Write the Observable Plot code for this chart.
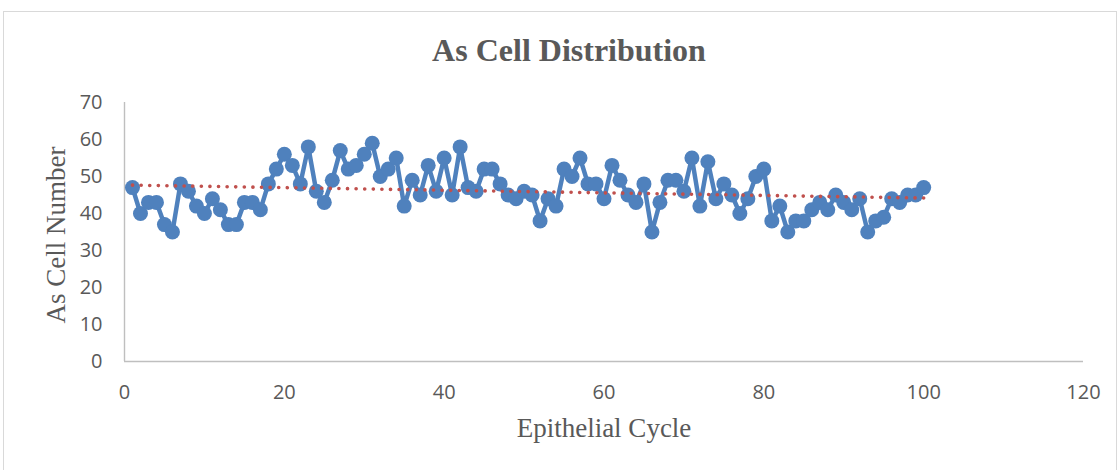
<!DOCTYPE html>
<html>
<head>
<meta charset="utf-8">
<script src="https://cdn.jsdelivr.net/npm/d3@7"></script>
<script src="https://cdn.jsdelivr.net/npm/@observablehq/plot@0.6"></script>
<style>
  html, body { margin: 0; padding: 0; background: #fff; }
  #wrap { position: relative; width: 1120px; height: 470px; overflow: hidden; }
  #frame { position: absolute; left: 3px; top: 11px; width: 1114px; height: 470px; border: 1px solid #d9d9d9; box-sizing: border-box; }
  #chart { position: absolute; left: 0; top: 0; }
</style>
</head>
<body>
<div id="wrap"><div id="frame"></div><div id="chart"></div></div>
<script>
const titleText = "As Cell Distribution";
const xTitle = "Epithelial Cycle";
const yTitle = "As Cell Number";
const xTicks = [0, 20, 40, 60, 80, 100, 120];
const yTicks = [0, 10, 20, 30, 40, 50, 60, 70];
const cycles = d3.range(1, 101);
const asCells = [
  47, 40, 43, 43, 37, 35, 48, 46, 42, 40,
  44, 41, 37, 37, 43, 43, 41, 48, 52, 56,
  53, 48, 58, 46, 43, 49, 57, 52, 53, 56,
  59, 50, 52, 55, 42, 49, 45, 53, 46, 55,
  45, 58, 47, 46, 52, 52, 48, 45, 44, 46,
  45, 38, 44, 42, 52, 50, 55, 48, 48, 44,
  53, 49, 45, 43, 48, 35, 43, 49, 49, 46,
  55, 42, 54, 44, 48, 45, 40, 44, 50, 52,
  38, 42, 35, 38, 38, 41, 43, 41, 45, 43,
  41, 44, 35, 38, 39, 44, 43, 45, 45, 47
];
const data = cycles.map((c, i) => ({cycle: c, value: asCells[i]}));

const blue = "#4F81BD";
const red = "#C0504D";
const gray = "#595959";
const serif = "'Liberation Serif', 'Times New Roman', serif";

const chart = Plot.plot({
  width: 1120,
  height: 470,
  marginLeft: 124,
  marginRight: 37,
  marginTop: 102,
  marginBottom: 109,
  style: {fontFamily: "'Open Sans', sans-serif", fontSize: "20px", color: gray, background: "transparent", overflow: "visible"},
  x: {domain: [0, 120], ticks: xTicks, tickSize: 0, tickPadding: 23, label: null},
  y: {domain: [0, 70], ticks: yTicks, tickSize: 0, tickPadding: 22, label: null},
  marks: [
    Plot.ruleY([0], {stroke: "#bfbfbf", strokeWidth: 1.4}),
    Plot.ruleX([0], {stroke: "#bfbfbf", strokeWidth: 1.4}),
    Plot.line(data, {x: "cycle", y: "value", stroke: blue, strokeWidth: 4.5, strokeLinejoin: "round"}),
    Plot.dot(data, {x: "cycle", y: "value", r: 7.5, fill: blue, stroke: null}),
    Plot.linearRegressionY(data, {x: "cycle", y: "value", ci: 0, stroke: red, strokeWidth: 3.6, strokeDasharray: "0.1 8.5", strokeLinecap: "round"}),
    Plot.text([titleText], {frameAnchor: "top", textAnchor: "middle", dx: -35, dy: -64, fontFamily: serif, fontWeight: "bold", fontSize: 32, fill: gray}),
    Plot.text([xTitle], {frameAnchor: "bottom", textAnchor: "middle", dy: 75, fontFamily: serif, fontSize: 27, fill: gray}),
    Plot.text([yTitle], {frameAnchor: "left", textAnchor: "middle", dx: -68, dy: 3, rotate: -90, fontFamily: serif, fontSize: 27, fill: gray})
  ]
});
document.getElementById("chart").appendChild(chart);
</script>
</body>
</html>
